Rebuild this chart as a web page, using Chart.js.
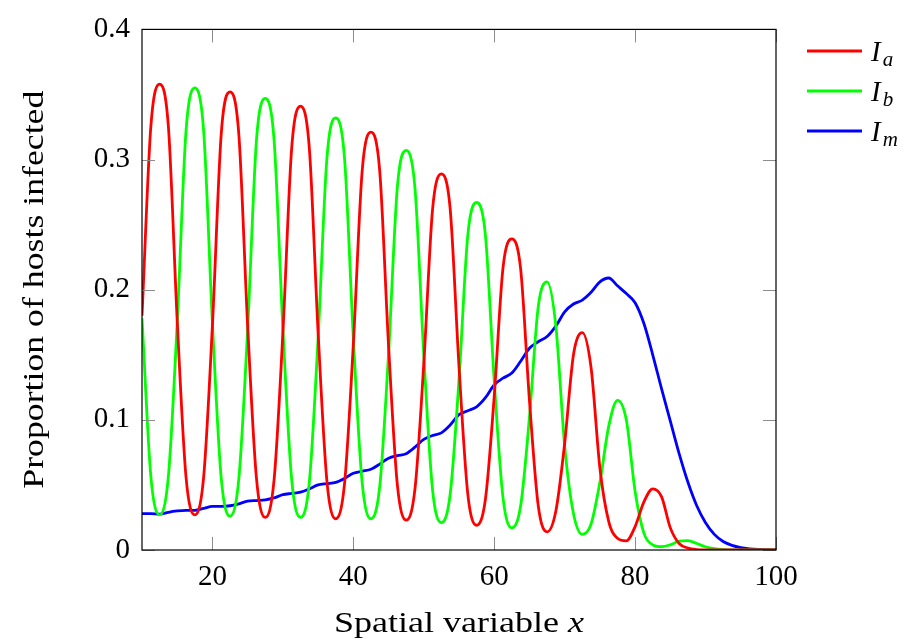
<!DOCTYPE html>
<html>
<head>
<meta charset="utf-8">
<script src="https://cdn.jsdelivr.net/npm/chart.js@4/dist/chart.umd.min.js"></script>
<style>
html,body{margin:0;padding:0;background:#fff}
canvas{display:block}
</style>
</head>
<body>
<canvas id="c" width="911" height="644"></canvas>
<script>
// ===== data =====
var xs=[10,11.25,12.5,13.75,15,16.25,17.5,18.75,20,21.25,22.5,23.75,25,26.25,27.5,28.75,30,31.25,32.5,33.75,35,36.25,37.5,38.75,40,41.25,42.5,43.75,45,46.25,47.5,48.75,50,51.25,52.5,53.75,55,56.25,57.5,58.75,60,61.25,62.5,63.75,65,66.25,67.5,68.75,70,71.25,72.5,73.75,75,76.25,77.5,78.75,80,81.25,82.5,83.75,85,86.25,87.5,88.75,90,91.25,92.5,93.75,95,96.25,97.5,98.75,100];
var Ia=[0.180,0.325,0.358,0.325,0.176,0.056,0.027,0.056,0.173,0.320,0.352,0.319,0.172,0.055,0.025,0.054,0.167,0.309,0.341,0.309,0.167,0.053,0.024,0.051,0.158,0.291,0.321,0.291,0.157,0.050,0.023,0.047,0.143,0.262,0.289,0.262,0.141,0.043,0.019,0.039,0.118,0.217,0.239,0.216,0.115,0.034,0.014,0.030,0.082,0.150,0.167,0.140,0.063,0.022,0.009,0.007,0.018,0.037,0.047,0.041,0.017,0.005,0.0015,0.0003,0,0,0,0,0,0,0,0,0];
var Ib=[0.178,0.057,0.027,0.057,0.175,0.322,0.355,0.322,0.174,0.055,0.026,0.055,0.170,0.315,0.347,0.315,0.170,0.054,0.025,0.052,0.163,0.301,0.332,0.301,0.163,0.052,0.024,0.049,0.151,0.279,0.307,0.278,0.150,0.046,0.021,0.043,0.131,0.242,0.267,0.242,0.130,0.040,0.017,0.034,0.102,0.187,0.206,0.172,0.080,0.028,0.012,0.020,0.052,0.095,0.115,0.100,0.045,0.013,0.004,0.0025,0.004,0.0068,0.0072,0.005,0.0025,0.001,0.0003,0,0,0,0,0,0];
var Im=[0.028,0.028,0.0275,0.029,0.030,0.0305,0.0305,0.032,0.0335,0.0335,0.034,0.0355,0.0375,0.038,0.0385,0.040,0.0425,0.0435,0.0445,0.047,0.050,0.051,0.052,0.055,0.059,0.0605,0.062,0.066,0.0705,0.0725,0.074,0.079,0.085,0.088,0.090,0.096,0.104,0.107,0.110,0.117,0.127,0.132,0.136,0.145,0.155,0.160,0.164,0.172,0.183,0.189,0.192,0.198,0.206,0.209,0.203,0.197,0.190,0.174,0.150,0.124,0.099,0.074,0.052,0.034,0.021,0.012,0.0065,0.0035,0.0018,0.0009,0.0004,0.0002,0.0001];

var xTicks=[20,40,60,80,100];
var yTicks=[0,0.1,0.2,0.3,0.4];
var subs=['a','b','m'];
var colors=['#ff0000','#00ff00','#0000ff'];
var xTitle='Spatial variable ', xTitleVar='x';
var yTitle='Proportion of hosts infected';

var SERIF='"Liberation Serif", "DejaVu Serif", serif';

function pts(ys){return xs.map(function(x,i){return {x:x,y:ys[i]};});}

// draw a run of text pieces centred on 0, stretched to a target width
function drawRun(ctx,parts,target){
 var w=0;
 parts.forEach(function(p){ctx.font=p.font;p.w=ctx.measureText(p.text).width;w+=p.w;});
 var k=target/w;
 ctx.scale(k,1);
 var x=-w/2;
 ctx.textAlign='left';ctx.textBaseline='alphabetic';
 parts.forEach(function(p){ctx.font=p.font;ctx.fillText(p.text,x,0);x+=p.w;});
}

var decor={
 id:'decor',
 afterDatasetsDraw:function(chart){
  var ctx=chart.ctx, a=chart.chartArea, sx=chart.scales.x, sy=chart.scales.y;
  ctx.save();
  // inward ticks on all four sides
  ctx.strokeStyle='#8c8c8c';ctx.lineWidth=1;
  ctx.beginPath();
  xTicks.forEach(function(v){
   var px=Math.round(sx.getPixelForValue(v))+0.5;
   ctx.moveTo(px,a.bottom);ctx.lineTo(px,a.bottom-13);
   ctx.moveTo(px,a.top);ctx.lineTo(px,a.top+13);
  });
  yTicks.forEach(function(v){
   var py=Math.round(sy.getPixelForValue(v))+0.5;
   ctx.moveTo(a.left,py);ctx.lineTo(a.left+13,py);
   ctx.moveTo(a.right,py);ctx.lineTo(a.right-13,py);
  });
  ctx.stroke();
  // frame
  ctx.strokeStyle='#000';ctx.lineWidth=1.2;
  ctx.strokeRect(a.left,a.top,a.right-a.left,a.bottom-a.top);
  ctx.restore();
 },
 afterDraw:function(chart){
  var ctx=chart.ctx, a=chart.chartArea;
  ctx.save();
  ctx.fillStyle='#000';
  // x title
  ctx.save();
  ctx.translate((a.left+a.right)/2,632);
  drawRun(ctx,[{text:xTitle,font:'29px '+SERIF},{text:xTitleVar,font:'italic 29px '+SERIF}],250);
  ctx.restore();
  // y title
  ctx.save();
  ctx.translate(43,(a.top+a.bottom)/2);
  ctx.rotate(-Math.PI/2);
  drawRun(ctx,[{text:yTitle,font:'29px '+SERIF}],398);
  ctx.restore();
  // legend
  chart.data.datasets.forEach(function(ds,i){
   var y=51+i*40;
   ctx.strokeStyle=ds.borderColor;ctx.lineWidth=3;
   ctx.beginPath();ctx.moveTo(807,y);ctx.lineTo(862,y);ctx.stroke();
   ctx.textAlign='left';ctx.textBaseline='alphabetic';
   ctx.font='italic 29px '+SERIF;
   ctx.fillText('I',871,y+10);
   var iw=ctx.measureText('I').width;
   ctx.font='italic 21px '+SERIF;
   ctx.fillText(subs[i],871+iw+2,y+15);
  });
  ctx.restore();
 }
};

new Chart(document.getElementById('c'),{
 type:'line',
 data:{datasets:[
  {label:'I_a',data:pts(Ia),borderColor:colors[0]},
  {label:'I_b',data:pts(Ib),borderColor:colors[1]},
  {label:'I_m',data:pts(Im),borderColor:colors[2]}
 ]},
 options:{
  responsive:false,animation:false,devicePixelRatio:1,
  layout:{padding:{top:23,right:135,left:0,bottom:0}},
  elements:{line:{borderWidth:2.8,cubicInterpolationMode:'monotone',fill:false},point:{radius:0}},
  plugins:{legend:{display:false},tooltip:{enabled:false}},
  scales:{
   x:{type:'linear',min:10,max:100,
    afterBuildTicks:function(s){s.ticks=xTicks.map(function(v){return {value:v};});},
    afterFit:function(s){s.height=94;},
    grid:{display:false,drawTicks:false},border:{display:false},
    ticks:{color:'#000',font:{family:SERIF,size:29},padding:10,maxRotation:0,autoSkip:false}},
   y:{type:'linear',min:0,max:0.4,
    afterBuildTicks:function(s){s.ticks=yTicks.map(function(v){return {value:v};});},
    afterFit:function(s){s.width=142;},
    grid:{display:false,drawTicks:false},border:{display:false},
    ticks:{color:'#000',font:{family:SERIF,size:29},padding:12,autoSkip:false,
     callback:function(v){return v===0?'0':v.toFixed(1);}}}
  }
 },
 plugins:[decor]
});
</script>
</body>
</html>
